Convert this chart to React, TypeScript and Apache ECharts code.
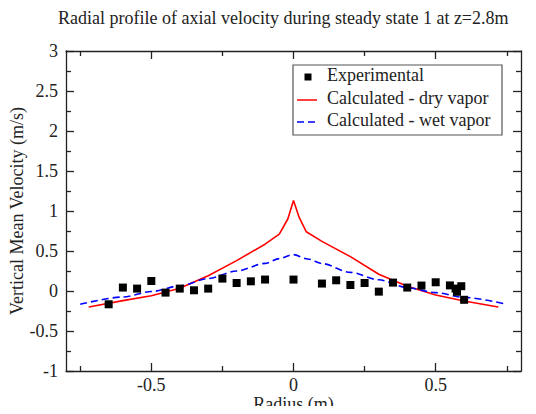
import React, { useEffect, useRef } from "react";
import * as echarts from "echarts";

// Experimental data
const expX = [-0.65, -0.6, -0.55, -0.5, -0.45, -0.4, -0.35, -0.3, -0.25, -0.2, -0.15, -0.1, 0, 0.1, 0.15, 0.2, 0.25, 0.3, 0.35, 0.4, 0.45, 0.5, 0.55, 0.57, 0.575, 0.59, 0.6];
const expY = [-0.166, 0.043, 0.03, 0.125, -0.02, 0.03, 0.009, 0.03, 0.155, 0.1, 0.121, 0.143, 0.143, 0.093, 0.134, 0.075, 0.1, -0.008, 0.105, 0.043, 0.068, 0.109, 0.07, 0.03, -0.01, 0.06, -0.11];

// Calculated - dry vapor
const dryX = [-0.72, -0.6, -0.5, -0.4, -0.3, -0.2, -0.1, -0.05, -0.02, 0, 0.02, 0.045, 0.1, 0.2, 0.3, 0.4, 0.5, 0.6, 0.72];
const dryY = [-0.2, -0.12, -0.06, 0.035, 0.19, 0.38, 0.585, 0.71, 0.9, 1.13, 0.92, 0.74, 0.62, 0.43, 0.21, 0.06, -0.05, -0.125, -0.2];

// Calculated - wet vapor
const wetX = [-0.75, -0.6, -0.5, -0.4, -0.3, -0.2, -0.1, -0.05, 0, 0.05, 0.1, 0.2, 0.3, 0.4, 0.5, 0.6, 0.75];
const wetY = [-0.166, -0.075, -0.007, 0.064, 0.156, 0.25, 0.345, 0.405, 0.455, 0.4, 0.343, 0.233, 0.14, 0.042, -0.02, -0.08, -0.166];

// Tick values
const xMajor = [-0.5, 0, 0.5];
const xMinor = [-0.75, -0.25, 0.25, 0.75];

const titleText = "Radial profile of axial velocity during steady state 1 at z=2.8m";
const xName = "Radius (m)";
const yName = "Vertical Mean Velocity (m/s)";
const legendNames = ["Experimental", "Calculated - dry vapor", "Calculated - wet vapor"];

const FONT = "'Liberation Serif', 'DejaVu Serif', serif";
const INK = "#222";

export default function App() {
  const ref = useRef<HTMLDivElement>(null);

  useEffect(() => {
    if (!ref.current) return;
    const chart = echarts.init(ref.current, undefined, { renderer: "svg" });
    const lineStyle = { color: INK, width: 1.3 };
    const hiddenLabel = { show: false };

    const majorX = (pos: string, withLabels: boolean) => ({
      type: "value",
      position: pos,
      min: -0.8,
      max: 0.8,
      axisLine: { show: true, onZero: false, lineStyle },
      axisTick: { show: true, inside: true, length: 8, customValues: xMajor, lineStyle },
      axisLabel: withLabels
        ? { show: true, customValues: xMajor, fontSize: 18, fontFamily: FONT, color: INK, margin: 5 }
        : hiddenLabel,
      splitLine: { show: false },
      ...(withLabels
        ? {
            name: xName,
            nameLocation: "middle",
            nameGap: 24,
            nameMoveOverlap: false,
            nameTextStyle: { fontSize: 18, fontFamily: FONT, color: INK },
          }
        : {}),
    });
    const minorX = (pos: string) => ({
      type: "value",
      position: pos,
      min: -0.8,
      max: 0.8,
      axisLine: { show: false, onZero: false },
      axisTick: { show: true, inside: true, length: 5, customValues: xMinor, lineStyle },
      axisLabel: hiddenLabel,
      splitLine: { show: false },
    });
    const yAx = (pos: string, withLabels: boolean) => ({
      type: "value",
      position: pos,
      min: -1,
      max: 3,
      interval: 0.5,
      axisLine: { show: true, onZero: false, lineStyle },
      axisTick: { show: true, inside: true, length: 8, lineStyle },
      minorTick: { show: true, splitNumber: 2, length: 5, lineStyle },
      axisLabel: withLabels
        ? { show: true, fontSize: 18, fontFamily: FONT, color: INK, margin: 8 }
        : hiddenLabel,
      splitLine: { show: false },
      minorSplitLine: { show: false },
      ...(withLabels
        ? {
            name: yName,
            nameLocation: "middle",
            nameGap: 40,
            nameMoveOverlap: false,
            nameTextStyle: { fontSize: 18, fontFamily: FONT, color: INK },
          }
        : {}),
    });

    const legendX = 293;
    const legendY = 65;
    const textStyle = (y: number, text: string) => ({
      type: "text",
      left: 327,
      top: y - 11,
      style: { text, fontSize: 18, fontFamily: FONT, fill: INK },
    });

    chart.setOption({
      animation: false,
      backgroundColor: "#fff",
      title: {
        text: titleText,
        left: 53,
        top: 4,
        textStyle: { fontSize: 18, fontFamily: FONT, fontWeight: "normal", color: INK },
      },
      grid: { left: 66, right: 15, top: 51, bottom: 43, outerBoundsMode: "none", containLabel: false },
      xAxis: [majorX("bottom", true), minorX("bottom"), majorX("top", false), minorX("top")],
      yAxis: [yAx("left", true), yAx("right", false)],
      series: [
        {
          name: legendNames[1],
          type: "line",
          data: dryX.map((x, i) => [x, dryY[i]]),
          showSymbol: false,
          symbol: "none",
          lineStyle: { color: "#ff0000", width: 1.6 },
          z: 2,
        },
        {
          name: legendNames[2],
          type: "line",
          data: wetX.map((x, i) => [x, wetY[i]]),
          showSymbol: false,
          symbol: "none",
          smooth: 0.3,
          smoothMonotone: "x",
          lineStyle: { color: "#0000ff", width: 1.6, type: [7, 4] },
          z: 2,
        },
        {
          name: legendNames[0],
          type: "scatter",
          data: expX.map((x, i) => [x, expY[i]]),
          symbol: "rect",
          symbolSize: 8,
          itemStyle: { color: "#000", opacity: 1 },
          z: 3,
        },
      ],
      graphic: [
        {
          type: "rect",
          shape: { x: legendX, y: legendY, width: 209, height: 70 },
          style: { fill: "#fff", stroke: "#555", lineWidth: 1.2 },
          z: 10,
        },
        {
          type: "rect",
          shape: { x: 304.5, y: 73.5, width: 7, height: 7 },
          style: { fill: "#000" },
          z: 11,
        },
        {
          type: "line",
          shape: { x1: 297, y1: 100, x2: 317, y2: 100 },
          style: { stroke: "#ff0000", lineWidth: 1.5 },
          z: 11,
        },
        {
          type: "line",
          shape: { x1: 297, y1: 122, x2: 318, y2: 122 },
          style: { stroke: "#0000ff", lineWidth: 1.5, lineDash: [7, 4] },
          z: 11,
        },
        { ...textStyle(77, legendNames[0]), z: 11 },
        { ...textStyle(100, legendNames[1]), z: 11 },
        { ...textStyle(122, legendNames[2]), z: 11 },
      ],
    });
    return () => chart.dispose();
  }, []);

  return <div ref={ref} style={{ width: 536, height: 414, margin: -8 }} />;
}
